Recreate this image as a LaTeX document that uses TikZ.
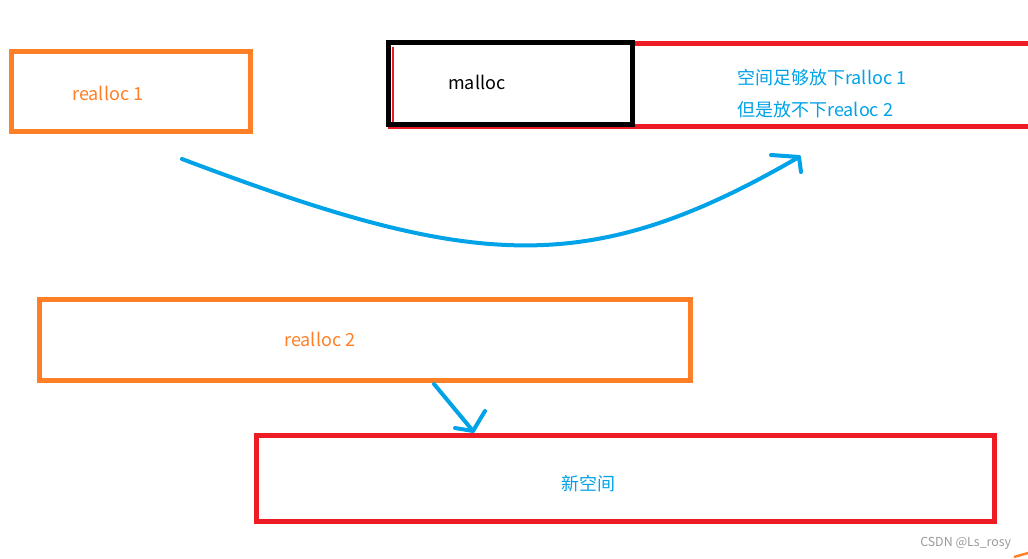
\documentclass[tikz,border=0pt]{standalone}
\usepackage{fontspec}
\setmainfont{Noto Sans CJK SC}
\definecolor{porange}{HTML}{FF7F27}
\definecolor{pred}{HTML}{ED1C24}
\definecolor{pblue}{HTML}{00A2E8}
\definecolor{wmgray}{HTML}{9A9A9A}
\tikzset{
  boxshape/.style={draw, rectangle, inner sep=0pt, line width=3.75pt},
  lbl/.style={anchor=west, inner sep=0pt, font=\fontsize{13.5}{15}\selectfont},
  bluearrow/.style={draw=pblue, line width=3pt, line cap=round, line join=round},
}
\begin{document}
\begin{tikzpicture}[x=0.75pt, y=-0.75pt]
\useasboundingbox (0,0) rectangle (1028,559);
\fill[white] (0,0) rectangle (1028,559);

% red open-ended region behind malloc
\draw[pred, line width=3.75pt] (1028,44) -- (390,44) -- (390,127) -- (1028,127);
\node (malloc) [boxshape, draw=black, line width=4.2pt, fill=white, minimum width={244*0.75pt}, minimum height={82*0.75pt}] at (510.5,83.5) {};
\draw[pred, line width=1.5pt] (392.5,47) -- (392.5,122);

\node (r1) [boxshape, draw=porange, minimum width={239*0.75pt}, minimum height={80*0.75pt}] at (131,91.5) {};
\node (r2) [boxshape, draw=porange, minimum width={651*0.75pt}, minimum height={81*0.75pt}] at (365,340) {};
\node (new) [boxshape, draw=pred, minimum width={738*0.75pt}, minimum height={86*0.75pt}] at (625.5,478.5) {};

\node (t1) [lbl, text=porange] at (72,93) {realloc 1};
\node (tm) [lbl, text=black] at (448,82) {malloc};
\node (tb1) [lbl, text=pblue] at (737,78) {空间足够放下ralloc 1};
\node (tb2) [lbl, text=pblue] at (737,110) {但是放不下realoc 2};
\node (t2) [lbl, text=porange] at (284,339) {realloc 2};
\node (t3) [lbl, text=pblue] at (561,484) {新空间};
\node (wm) [anchor=west, inner sep=0pt, text=wmgray, font=\fontsize{9.3}{11}\selectfont] at (920,543) {CSDN @Ls\_rosy};

% curved arrow
\coordinate (cs) at (182,159);
\coordinate (ce) at (799,157);
\draw[bluearrow] (cs) .. controls (473,269) and (587,280) .. (ce);
\draw[bluearrow] (771,155) -- (ce) -- (801,172);

% straight arrow
\coordinate (as) at (434,384);
\coordinate (ae) at (473,431);
\draw[bluearrow] (as) -- (ae);
\draw[bluearrow] (455,428) -- (ae) -- (485,411);

% small orange mark at corner
\draw[porange, line width=1.8pt] (1014,557) -- (1028,553);
\end{tikzpicture}
\end{document}
